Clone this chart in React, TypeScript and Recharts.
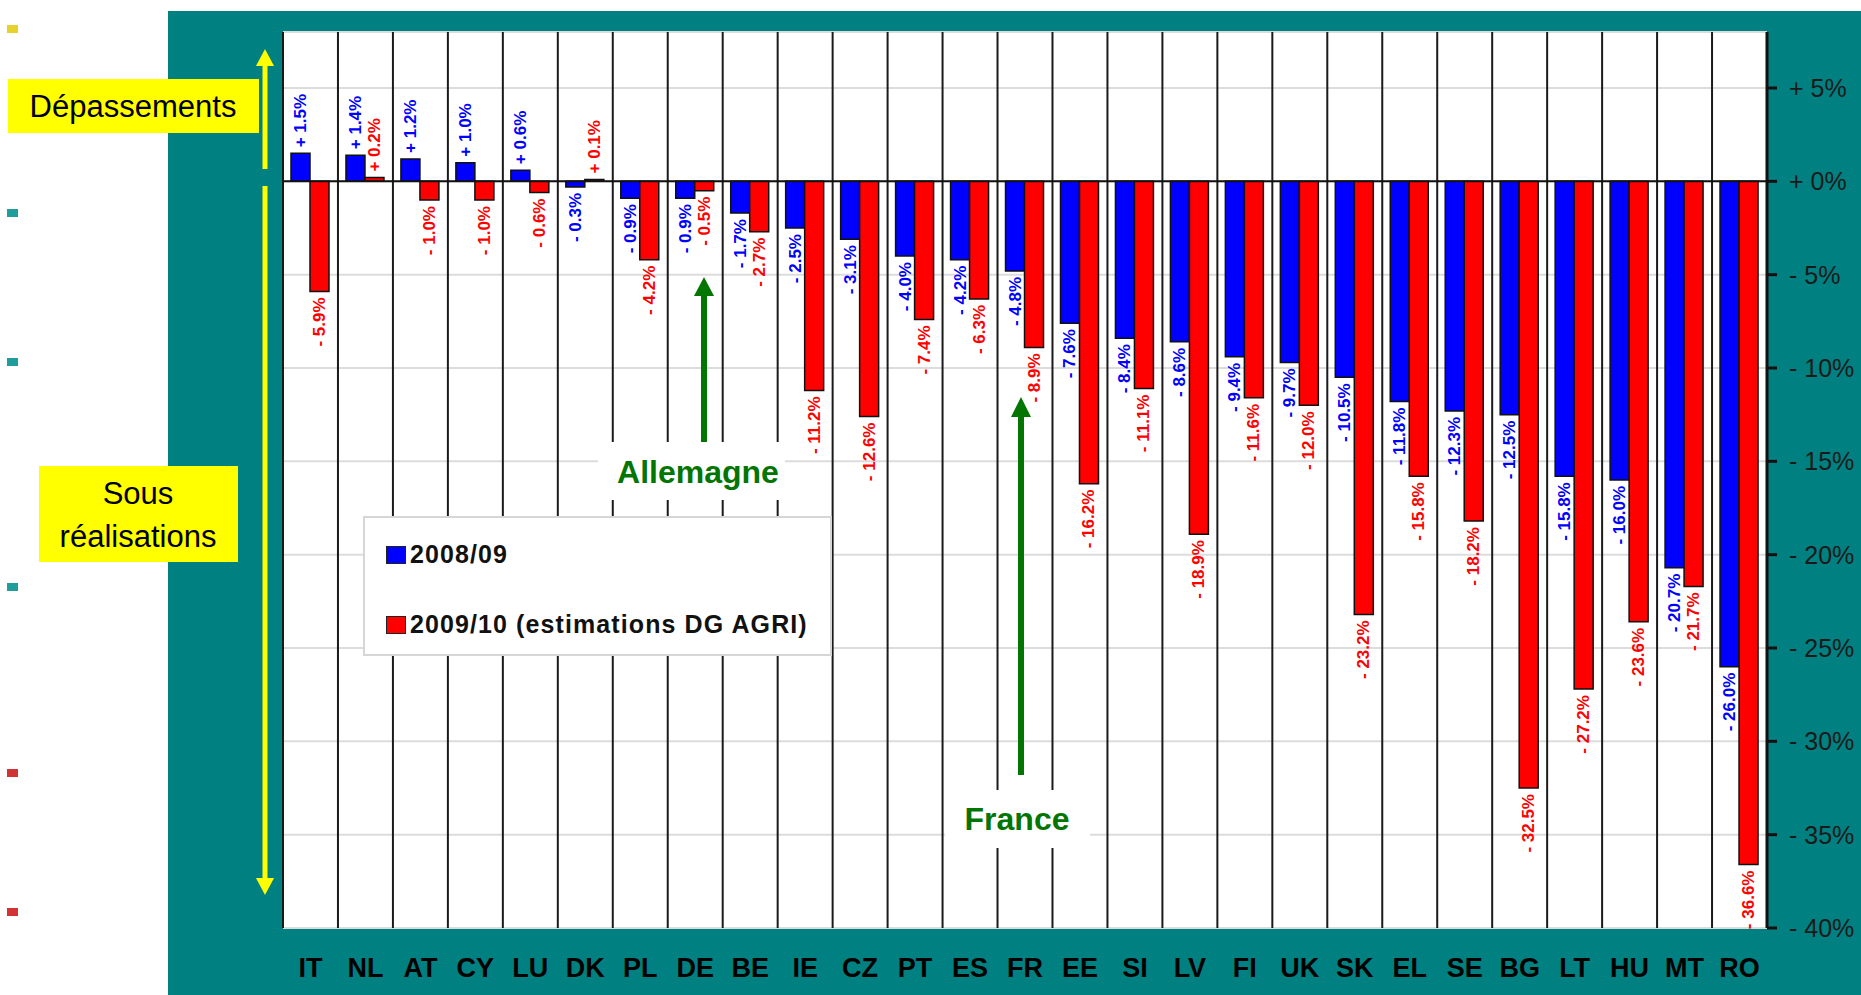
import React from "react";
import {
  BarChart,
  Bar,
  XAxis,
  YAxis,
  CartesianGrid,
  ReferenceLine,
  LabelList,
  Legend,
} from "recharts";

const countries = [
  "IT", "NL", "AT", "CY", "LU", "DK", "PL", "DE", "BE", "IE", "CZ", "PT", "ES", "FR",
  "EE", "SI", "LV", "FI", "UK", "SK", "EL", "SE", "BG", "LT", "HU", "MT", "RO",
];
const season0809 = [
  1.5, 1.4, 1.2, 1.0, 0.6, -0.3, -0.9, -0.9, -1.7, -2.5, -3.1, -4.0, -4.2, -4.8,
  -7.6, -8.4, -8.6, -9.4, -9.7, -10.5, -11.8, -12.3, -12.5, -15.8, -16.0, -20.7, -26.0,
];
const season0910 = [
  -5.9, 0.2, -1.0, -1.0, -0.6, 0.1, -4.2, -0.5, -2.7, -11.2, -12.6, -7.4, -6.3, -8.9,
  -16.2, -11.1, -18.9, -11.6, -12.0, -23.2, -15.8, -18.2, -32.5, -27.2, -23.6, -21.7, -36.6,
];
const yTicks = [5, 0, -5, -10, -15, -20, -25, -30, -35, -40];
const seriesNames = ["2008/09", "2009/10 (estimations DG AGRI)"];

const BLUE = "#0000ff";
const RED = "#ff0000";
const GREEN = "#037503";
const TEAL = "#008080";
const FONT = "'Liberation Sans', Arial, sans-serif";

const data = countries.map((c, i) => ({ country: c, a: season0809[i], b: season0910[i] }));

const fmtValue = (v: number) => (v >= 0 ? "+ " : "- ") + Math.abs(v).toFixed(1) + "%";
const fmtTick = (v: number) => (v >= 0 ? "+ " : "- ") + Math.abs(v) + "%";

function makeLabel(color: string) {
  return (props: any) => {
    const { x, y, width, height, value } = props;
    const cx = x + width / 2;
    const top = Math.min(y, y + height);
    const bottom = Math.max(y, y + height);
    const pos = value >= 0;
    const ty = pos ? top - 6 : bottom + 6;
    return (
      <text
        x={cx}
        y={ty}
        transform={`rotate(-90 ${cx} ${ty})`}
        textAnchor={pos ? "start" : "end"}
        dominantBaseline="central"
        fill={color}
        fontSize={17}
        fontWeight="bold"
        fontFamily={FONT}
      >
        {fmtValue(value)}
      </text>
    );
  };
}

function LegendBox() {
  const colors = [BLUE, RED];
  return (
    <div
      style={{
        width: 469,
        height: 140,
        background: "#fff",
        border: "2px solid #d6d6d6",
        boxSizing: "border-box",
        position: "relative",
        fontFamily: FONT,
      }}
    >
      {seriesNames.map((name, i) => (
        <div
          key={name}
          style={{
            position: "absolute",
            left: 21,
            top: 22 + i * 70,
            display: "flex",
            alignItems: "center",
            fontSize: 25,
            fontWeight: "bold",
            letterSpacing: 1.1,
            color: "#111",
          }}
        >
          <span
            style={{
              display: "inline-block",
              width: 18,
              height: 16,
              background: colors[i],
              border: "1.5px solid #222",
              marginRight: 4,
            }}
          />
          {name}
        </div>
      ))}
    </div>
  );
}

export default function App() {
  return (
    <div
      style={{
        position: "absolute",
        left: 0,
        top: 0,
        width: 1861,
        height: 995,
        background: "#fff",
        overflow: "hidden",
        fontFamily: FONT,
      }}
    >
      <div style={{ position: "absolute", left: 168, top: 11, right: 0, bottom: 0, background: TEAL }} />
      <div style={{ position: "absolute", left: 0, top: 0 }}>
        <BarChart
          width={1861}
          height={995}
          data={data}
          margin={{ top: 32, right: 0, bottom: 0, left: 283 }}
          barSize={19}
          barGap={0}
        >
          <CartesianGrid
            vertical={false}
            stroke="#dcdcdc"
            strokeWidth={2}
            fill="#fff"
            fillOpacity={1}
          />
          <CartesianGrid
            horizontal={false}
            stroke="#1a1a1a"
            strokeWidth={2}
            verticalCoordinatesGenerator={({ offset }: any) =>
              Array.from({ length: countries.length + 1 }, (_, i) => offset.left + (i * offset.width) / countries.length)
            }
          />
          <XAxis
            dataKey="country"
            height={67}
            axisLine={false}
            tickLine={false}
            tickSize={0}
            tickMargin={30}
            interval={0}
            tick={{ fill: "#000", fontSize: 27, fontWeight: "bold", fontFamily: FONT }}
          />
          <YAxis
            orientation="right"
            width={94}
            domain={[-40, 8]}
            ticks={yTicks}
            allowDataOverflow
            tickFormatter={fmtTick}
            axisLine={{ stroke: "#111", strokeWidth: 3 }}
            tickLine={{ stroke: "#111", strokeWidth: 3 }}
            tickSize={10}
            tickMargin={12}
            tick={{ fill: "#1a1a1a", fontSize: 25, fontFamily: FONT }}
          />
          <ReferenceLine y={0} stroke="#111" strokeWidth={2} />
          <Bar dataKey="a" name={seriesNames[0]} fill={BLUE} stroke="#111" strokeWidth={1.5} isAnimationActive={false}>
            <LabelList dataKey="a" content={makeLabel(BLUE)} />
          </Bar>
          <Bar dataKey="b" name={seriesNames[1]} fill={RED} stroke="#111" strokeWidth={1.5} isAnimationActive={false}>
            <LabelList dataKey="b" content={makeLabel(RED)} />
          </Bar>
          <Legend
            layout="horizontal"
            verticalAlign="middle"
            align="center"
            content={() => <LegendBox />}
            wrapperStyle={{ left: 363, top: 516, width: 469, height: 140 }}
          />
        </BarChart>
      </div>
      <svg
        width={1861}
        height={995}
        style={{ position: "absolute", left: 0, top: 0, pointerEvents: "none" }}
      >
        {/* side markers */}
        <rect x={7} y={25} width={11} height={8} fill="#e6d22a" />
        <rect x={7} y={209} width={11} height={8} fill="#1f9c9c" />
        <rect x={7} y={358} width={11} height={8} fill="#1f9c9c" />
        <rect x={7} y={583} width={11} height={8} fill="#1f9c9c" />
        <rect x={7} y={769} width={11} height={8} fill="#d03434" />
        <rect x={7} y={908} width={11} height={8} fill="#d03434" />

        {/* yellow double arrow */}
        <line x1={265} y1={169} x2={265} y2={62} stroke="#ffff00" strokeWidth={5} />
        <polygon points="265,49 256,66 274,66" fill="#ffff00" />
        <line x1={265} y1={186} x2={265} y2={882} stroke="#ffff00" strokeWidth={5} />
        <polygon points="265,895 256,878 274,878" fill="#ffff00" />

        <rect x={8} y={79} width={251} height={54} fill="#ffff00" />
        <text x={133} y={117} textAnchor="middle" fontSize={31} fill="#000" fontFamily={FONT}>
          Dépassements
        </text>
        <rect x={39} y={466} width={199} height={96} fill="#ffff00" />
        <text x={138} y={504} textAnchor="middle" fontSize={31} fill="#000" fontFamily={FONT}>
          Sous
        </text>
        <text x={138} y={547} textAnchor="middle" fontSize={31} fill="#000" fontFamily={FONT}>
          réalisations
        </text>

        {/* Allemagne */}
        <line x1={704} y1={442} x2={704} y2={292} stroke={GREEN} strokeWidth={6} />
        <polygon points="704,277 694,296 714,296" fill={GREEN} />
        <rect x={598} y={442} width={187} height={58} fill="#fff" />
        <text x={698} y={483} textAnchor="middle" fontSize={32} fontWeight="bold" fill={GREEN} fontFamily={FONT}>
          Allemagne
        </text>

        {/* France */}
        <line x1={1021} y1={775} x2={1021} y2={413} stroke={GREEN} strokeWidth={6} />
        <polygon points="1021,397 1011,417 1031,417" fill={GREEN} />
        <rect x={945} y={790} width={145} height={58} fill="#fff" />
        <text x={1017} y={830} textAnchor="middle" fontSize={32} fontWeight="bold" fill={GREEN} fontFamily={FONT}>
          France
        </text>
      </svg>
    </div>
  );
}
